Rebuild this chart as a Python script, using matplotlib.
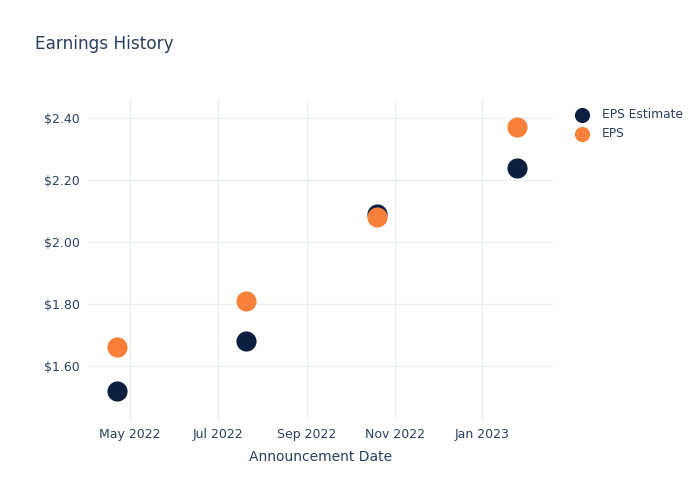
import matplotlib
matplotlib.use("Agg")
import matplotlib.pyplot as plt
import datetime as dt

dates = ["2022-04-22", "2022-07-21", "2022-10-20", "2023-01-25"]
eps_estimate = [1.52, 1.68, 2.09, 2.24]
eps_actual = [1.66, 1.81, 2.08, 2.37]
xtick_dates = ["2022-05-01", "2022-07-01", "2022-09-01", "2022-11-01", "2023-01-01"]
xtick_labels = ["May 2022", "Jul 2022", "Sep 2022", "Nov 2022", "Jan 2023"]
ytick_values = [1.60, 1.80, 2.00, 2.20, 2.40]
ytick_labels = ["$1.60", "$1.80", "$2.00", "$2.20", "$2.40"]

txt = "#2a3f5f"
grid = "#ebf0f8"
navy = "#0c1f40"
orange = "#f7803a"

x = [dt.datetime.fromisoformat(d) for d in dates]

fig = plt.figure(figsize=(7, 5), dpi=100)
ax = fig.add_axes([88/700, 80/500, 465/700, 320/500])
ax.scatter(x, eps_estimate, s=210, color=navy, label="EPS Estimate", zorder=3, linewidths=0)
ax.scatter(x, eps_actual, s=210, color=orange, label="EPS", zorder=3, linewidths=0)

ax.set_xlim(dt.datetime(2022, 4, 2), dt.datetime(2023, 2, 19))
ax.set_ylim(1.426, 2.458)
ax.set_xticks([dt.datetime.fromisoformat(d) for d in xtick_dates])
ax.set_xticklabels(xtick_labels)
ax.set_yticks(ytick_values)
ax.set_yticklabels(ytick_labels)
ax.tick_params(length=0, colors=txt, labelsize=9, pad=6)
ax.grid(True, color=grid, linewidth=1)
ax.set_axisbelow(True)
for s in ax.spines.values():
    s.set_visible(False)
ax.set_xlabel("Announcement Date", color=txt, fontsize=10, labelpad=6)

fig.text(35/700, 1 - 44/500, "Earnings History", color=txt, fontsize=12.2, va="center", ha="left")

leg = ax.legend(loc="upper left", bbox_to_anchor=(565/700, 1 - 103/500), bbox_transform=fig.transFigure,
                frameon=False, fontsize=8.8, labelcolor=txt, handletextpad=0.6, borderaxespad=0,
                labelspacing=0.5, markerscale=0.75)

fig.savefig("out.png", dpi=100, facecolor="white")
